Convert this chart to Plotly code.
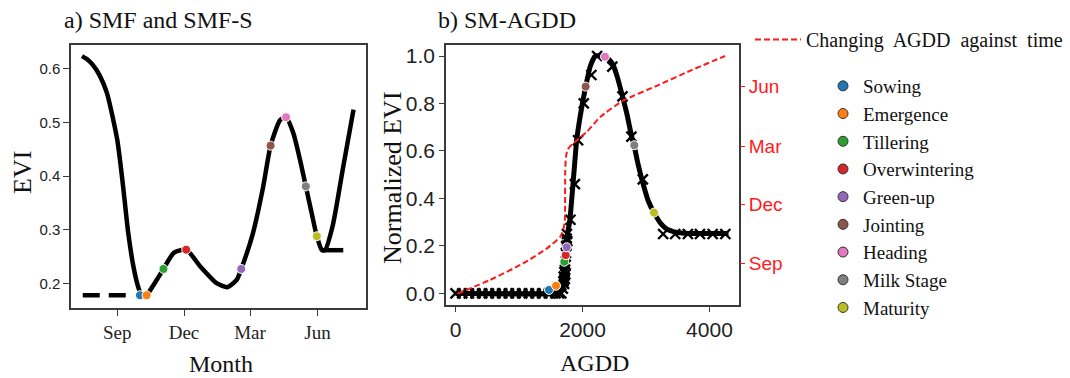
import plotly.graph_objects as go

W, H = 1070, 378

# ---------------- Panel a: SMF and SMF-S (EVI against month) ----------------
smf_dates = ["2017-07-15", "2017-07-22", "2017-07-30", "2017-08-08", "2017-08-18",
             "2017-09-01", "2017-09-09", "2017-09-16", "2017-09-23", "2017-09-29",
             "2017-10-03", "2017-10-07", "2017-10-12", "2017-10-25", "2017-11-03",
             "2017-11-17", "2017-12-04", "2017-12-23", "2018-01-15", "2018-01-29",
             "2018-02-11", "2018-02-17", "2018-03-05", "2018-03-19", "2018-03-29",
             "2018-04-11", "2018-04-19", "2018-04-29", "2018-05-08", "2018-05-16",
             "2018-05-24", "2018-05-31", "2018-06-07", "2018-06-11", "2018-06-22",
             "2018-07-06", "2018-07-20"]
smf_evi = [0.624, 0.618, 0.607, 0.588, 0.555,
           0.468, 0.381, 0.294, 0.232, 0.196,
           0.181, 0.176, 0.180, 0.207, 0.227,
           0.257, 0.263, 0.232, 0.200, 0.193,
           0.207, 0.227, 0.294, 0.381, 0.457,
           0.505, 0.510, 0.480, 0.431, 0.381,
           0.331, 0.288, 0.262, 0.262, 0.310,
           0.418, 0.524]
smfs_flat_dates = ["2018-06-07", "2018-07-06"]
smfs_flat_evi = [0.262, 0.262]
pre_sowing_dates = ["2017-07-16", "2017-09-13"]
pre_sowing_evi = [0.178, 0.178]

phases = ["Sowing", "Emergence", "Tillering", "Overwintering", "Green-up",
          "Jointing", "Heading", "Milk Stage", "Maturity"]
phase_colors = ["#1f77b4", "#ff7f0e", "#2ca02c", "#d62728", "#9467bd",
                "#8c564b", "#e377c2", "#7f7f7f", "#bcbd22"]
phase_dates_a = ["2017-10-02", "2017-10-11", "2017-11-03", "2017-12-04", "2018-02-17",
                 "2018-03-29", "2018-04-19", "2018-05-16", "2018-05-31"]
phase_evi_a = [0.178, 0.178, 0.227, 0.263, 0.227, 0.457, 0.510, 0.381, 0.288]

# ---------------- Panel b: SM-AGDD (normalized EVI against AGDD) ----------------
agdd_curve = [0, 1600, 1650, 1690, 1720, 1745, 1770, 1800, 1855, 1910, 1960, 2005,
              2050, 2120, 2200, 2280, 2355, 2420, 2485, 2550, 2620, 2700, 2775, 2815,
              2870, 2930, 3035, 3125, 3245, 3330, 3430, 3600, 4300]
nevi_curve = [0.0, 0.0, 0.01, 0.05, 0.12, 0.20, 0.26, 0.305, 0.475, 0.65, 0.74, 0.81,
              0.87, 0.955, 1.0, 1.0, 0.997, 0.985, 0.96, 0.91, 0.84, 0.755, 0.66, 0.62,
              0.55, 0.485, 0.39, 0.34, 0.29, 0.27, 0.26, 0.253, 0.252]

agdd_obs = [0, 105, 210, 315, 420, 525, 630, 735, 840, 945, 1050, 1155, 1260, 1365,
            1470, 1575, 1630, 1665, 1690, 1700, 1705, 1710, 1715, 1720, 1725, 1730,
            1735, 1740, 1745, 1750, 1755, 1760, 1810, 1880, 1930, 2020, 2140, 2230,
            2470, 2630, 2770, 2950, 3270, 3460, 3660, 3850, 4050, 4250]
nevi_obs = [0.0, 0.0, 0.0, 0.0, 0.0, 0.0, 0.0, 0.0, 0.0, 0.0, 0.0, 0.0, 0.0, 0.0,
            0.0, 0.0, 0.0, 0.0, 0.02, 0.05, 0.07, 0.04, 0.09, 0.06, 0.10, 0.08,
            0.12, 0.17, 0.20, 0.23, 0.25, 0.22, 0.31, 0.46, 0.645, 0.80, 0.92, 1.0,
            0.955, 0.83, 0.66, 0.48, 0.25, 0.25, 0.25, 0.25, 0.25, 0.25]

phase_agdd_b = [1472, 1583, 1713, 1735, 1751, 2050, 2354, 2816, 3126]
phase_nevi_b = [0.014, 0.032, 0.133, 0.161, 0.194, 0.871, 0.997, 0.624, 0.340]

# AGDD accumulated against time (right axis, dates)
time_agdd = [30, 540, 1070, 1440, 1650, 1700, 1722, 1725, 1728, 1740, 1760, 1800,
             1855, 1960, 2070, 2280, 2640, 3170, 3690, 4245]
time_dates = ["2017-07-16", "2017-08-06", "2017-09-01", "2017-09-24", "2017-10-12",
              "2017-10-24", "2017-11-06", "2017-11-25", "2018-01-22", "2018-02-12",
              "2018-02-22", "2018-02-28", "2018-03-05", "2018-03-14", "2018-03-23",
              "2018-04-15", "2018-05-10", "2018-06-02", "2018-06-25", "2018-07-18"]

season_ticks = ["2017-09-01", "2017-12-01", "2018-03-01", "2018-06-01"]


def px_x(p):
    return p / W


def px_y(p):
    return 1 - p / H


SERIF = "Liberation Serif, Times New Roman, serif"
SANS = "Liberation Sans, Arial, sans-serif"
FRAME = "#3a3a3a"

fig = go.Figure()

# Panel a lines
fig.add_trace(go.Scatter(x=pre_sowing_dates, y=pre_sowing_evi, mode="lines",
                         line=dict(color="black", width=4.5, dash="17px,9px"),
                         showlegend=False, xaxis="x", yaxis="y"))
fig.add_trace(go.Scatter(x=smf_dates, y=smf_evi, mode="lines",
                         line=dict(color="black", width=4.5, shape="spline", smoothing=0.6),
                         showlegend=False, xaxis="x", yaxis="y"))
fig.add_trace(go.Scatter(x=smfs_flat_dates, y=smfs_flat_evi, mode="lines",
                         line=dict(color="black", width=4.5),
                         showlegend=False, xaxis="x", yaxis="y"))

# Panel b: red AGDD-time line
fig.add_trace(go.Scatter(x=time_agdd, y=time_dates, mode="lines",
                         line=dict(color="#ff1a1a", width=2, dash="6px,3px", shape="spline", smoothing=0.5),
                         name="Changing  AGDD  against  time", legend="legend",
                         xaxis="x2", yaxis="y3"))

# Panel b: black fitted curve and observations
fig.add_trace(go.Scatter(x=agdd_curve, y=nevi_curve, mode="lines",
                         line=dict(color="black", width=5, shape="spline", smoothing=0.5),
                         showlegend=False, xaxis="x2", yaxis="y2"))
fig.add_trace(go.Scatter(x=agdd_obs, y=nevi_obs, mode="markers",
                         marker=dict(symbol="x-thin", size=10, line=dict(color="black", width=2.4)),
                         showlegend=False, xaxis="x2", yaxis="y2"))

# Phase dots
for i, ph in enumerate(phases):
    fig.add_trace(go.Scatter(x=[phase_dates_a[i]], y=[phase_evi_a[i]], mode="markers",
                             marker=dict(color=phase_colors[i], size=9,
                                         line=dict(color="white", width=1)),
                             showlegend=False, xaxis="x", yaxis="y"))
    fig.add_trace(go.Scatter(x=[phase_agdd_b[i]], y=[phase_nevi_b[i]], mode="markers",
                             marker=dict(color=phase_colors[i], size=9,
                                         line=dict(color="white", width=1)),
                             showlegend=False, xaxis="x2", yaxis="y2"))
for i, ph in enumerate(phases):
    fig.add_trace(go.Scatter(x=[None], y=[None], mode="markers", name=ph,
                             marker=dict(color=phase_colors[i], size=10,
                                         line=dict(color="#333333", width=1)),
                             legend="legend2", xaxis="x2", yaxis="y2"))

axis_common = dict(showgrid=False, zeroline=False, showline=True, mirror=True,
                   linecolor=FRAME, linewidth=1.5, ticks="outside", tickcolor=FRAME,
                   tickwidth=1.3)

fig.update_layout(
    width=W, height=H,
    margin=dict(l=0, r=0, t=0, b=0),
    paper_bgcolor="white", plot_bgcolor="white",
    xaxis=dict(domain=[px_x(71), px_x(366)], anchor="y", type="date",
               range=["2017-06-30", "2018-08-06"], tickvals=season_ticks,
               tickformat="%b", ticklen=6,
               tickfont=dict(family=SERIF, size=19, color="#222"), **axis_common),
    yaxis=dict(domain=[px_y(308), px_y(45)], anchor="x", range=[0.1542, 0.6447],
               tickvals=[0.2, 0.3, 0.4, 0.5, 0.6], tickformat=".1f", ticklen=6,
               tickfont=dict(family=SANS, size=15, color="#222"), **axis_common),
    xaxis2=dict(domain=[px_x(446), px_x(739)], anchor="y2", range=[-150, 4465],
                tickvals=[0, 2000, 4000], ticklen=5,
                tickfont=dict(family=SANS, size=21, color="#222"), **axis_common),
    yaxis2=dict(domain=[px_y(305), px_y(45)], anchor="x2", range=[-0.0493, 1.0464],
                tickvals=[0, 0.2, 0.4, 0.6, 0.8, 1.0], tickformat=".1f", ticklen=5,
                tickfont=dict(family=SANS, size=21, color="#222"), **axis_common),
    yaxis3=dict(overlaying="y2", anchor="x2", side="right", type="date",
                range=["2017-06-28 12:00", "2018-08-04"], tickvals=season_ticks,
                tickformat="%b", showgrid=False, zeroline=False, showline=False,
                ticks="outside", ticklen=5, tickcolor="#ff1a1a", tickwidth=1.3,
                tickfont=dict(family=SANS, size=19, color="#ff1a1a")),
    legend=dict(x=px_x(750), y=px_y(20), xanchor="left", yanchor="top", itemwidth=46,
                bgcolor="rgba(0,0,0,0)", font=dict(family=SERIF, size=20, color="#111")),
    legend2=dict(x=px_x(823), y=px_y(67), xanchor="left", yanchor="top",
                 bgcolor="rgba(0,0,0,0)", tracegroupgap=0,
                 font=dict(family=SERIF, size=19, color="#111")),
    showlegend=True,
)

annotations = [
    dict(text="a) SMF and SMF-S", x=px_x(62), y=px_y(20), xanchor="left", yanchor="middle",
         font=dict(family=SERIF, size=24, color="#111")),
    dict(text="b) SM-AGDD", x=px_x(436), y=px_y(20), xanchor="left", yanchor="middle",
         font=dict(family=SERIF, size=24, color="#111")),
    dict(text="EVI", x=px_x(22), y=px_y(173), xanchor="center", yanchor="middle",
         textangle=-90, font=dict(family=SERIF, size=26, color="#111")),
    dict(text="Month", x=px_x(221), y=px_y(364), xanchor="center", yanchor="middle",
         font=dict(family=SERIF, size=24, color="#111")),
    dict(text="Normalized EVI", x=px_x(392), y=px_y(178), xanchor="center", yanchor="middle",
         textangle=-90, font=dict(family=SERIF, size=26, color="#111")),
    dict(text="AGDD", x=px_x(594), y=px_y(363), xanchor="center", yanchor="middle",
         font=dict(family=SERIF, size=24, color="#111")),
]
for a in annotations:
    a.update(xref="paper", yref="paper", showarrow=False)
fig.update_layout(annotations=annotations)

fig.write_html("out.html", config={"displayModeBar": False},
               post_script="document.body.style.margin='0';document.body.style.overflow='hidden';")
